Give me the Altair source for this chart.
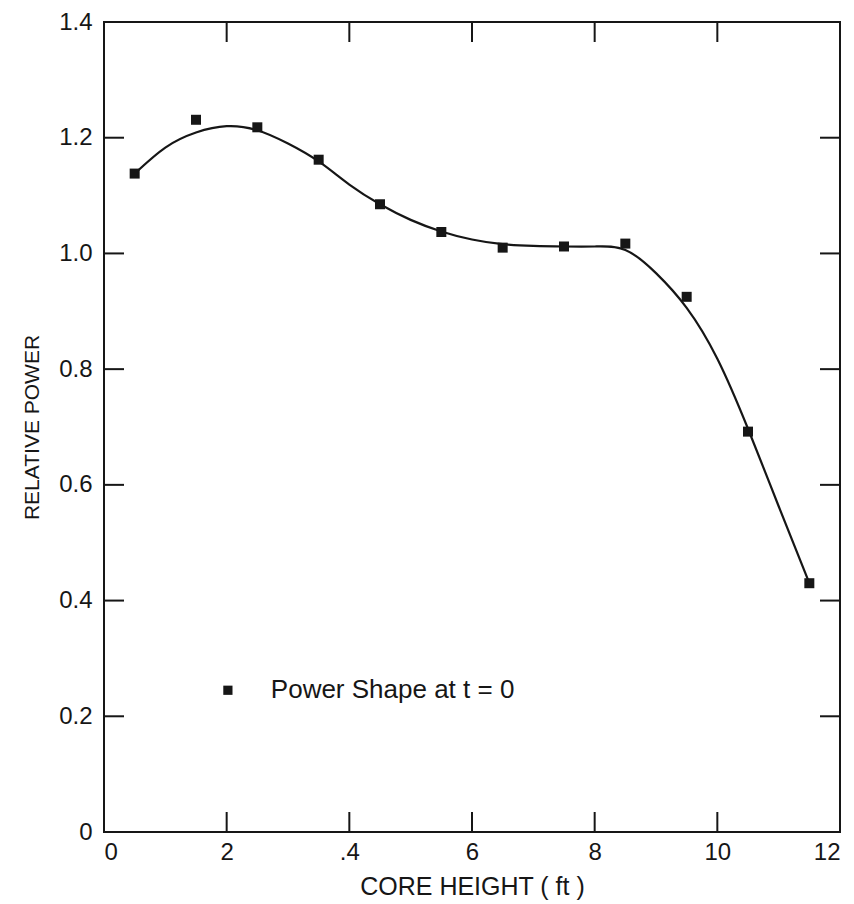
import altair as alt
import pandas as pd

# ---- data ----
height_ft = [0.5, 1.5, 2.5, 3.5, 4.5, 5.5, 6.5, 7.5, 8.5, 9.5, 10.5, 11.5]
rel_power = [1.138, 1.231, 1.218, 1.162, 1.085, 1.037, 1.010, 1.012, 1.017, 0.925, 0.692, 0.430]

curve_x = [0.5, 1.0, 1.5, 2.0, 2.5, 3.0, 3.5, 4.0, 4.5, 5.0, 5.5, 6.0, 6.5, 7.0, 7.5,
           8.0, 8.5, 9.0, 9.5, 10.0, 10.5, 11.0, 11.5]
curve_y = [1.138, 1.183, 1.209, 1.220, 1.213, 1.190, 1.159, 1.119, 1.085, 1.058, 1.038,
           1.024, 1.016, 1.013, 1.012, 1.012, 1.006, 0.966, 0.906, 0.818,
           0.697, 0.563, 0.430]

x_tick_values = [2, 4, 6, 8, 10]
y_tick_values = [0.2, 0.4, 0.6, 0.8, 1.0, 1.2]
x_label_values = [0, 2, 4, 6, 8, 10, 12]
y_label_values = [0, 0.2, 0.4, 0.6, 0.8, 1.0, 1.2, 1.4]
legend_text = ["Power Shape at t = 0"]
legend_pos_x = [2.02]
legend_text_x = [2.72]
legend_pos_y = [0.245]

FONT = "Liberation Sans"
INK = "#161616"
W, H = 736, 810

pts = pd.DataFrame({"x": height_ft, "y": rel_power})
crv = pd.DataFrame({"x": curve_x, "y": curve_y})
xt = pd.DataFrame({"x": x_tick_values})
yt = pd.DataFrame({"y": y_tick_values})
leg_sym = pd.DataFrame({"x": legend_pos_x, "y": legend_pos_y})
leg_txt = pd.DataFrame({"x": legend_text_x, "y": legend_pos_y, "t": legend_text})

xscale = alt.Scale(domain=[0, 12], nice=False, zero=False)
yscale = alt.Scale(domain=[0, 1.4], nice=False, zero=False)

xaxis = alt.Axis(values=x_label_values,
                 labelExpr="datum.value == 4 ? '.4' : format(datum.value, 'd')",
                 ticks=False, domain=False, grid=False, labelFontSize=24, labelFont=FONT,
                 labelColor=INK, labelPadding=8, title="CORE HEIGHT ( ft )",
                 titleFont=FONT, titleFontSize=25, titleFontWeight="normal",
                 titleColor=INK, titlePadding=10)
yaxis = alt.Axis(values=y_label_values,
                 labelExpr="datum.value == 0 ? '0' : format(datum.value, '.1f')",
                 ticks=False, domain=False, grid=False, labelFontSize=24, labelFont=FONT,
                 labelColor=INK, labelPadding=12, title="RELATIVE POWER",
                 titleFont=FONT, titleFontSize=21, titleFontWeight="normal",
                 titleColor=INK, titlePadding=16)

line = alt.Chart(crv).mark_line(color=INK, strokeWidth=2.2, interpolate="natural").encode(
    x=alt.X("x:Q", scale=xscale, axis=xaxis),
    y=alt.Y("y:Q", scale=yscale, axis=yaxis),
)
points = alt.Chart(pts).mark_point(shape="square", filled=True, size=100, color=INK, opacity=1).encode(
    x="x:Q", y="y:Q"
)

tick_len = 20
top_ticks = alt.Chart(xt).mark_rule(color=INK, strokeWidth=2).encode(
    x="x:Q", y=alt.value(0), y2=alt.value(tick_len))
bot_ticks = alt.Chart(xt).mark_rule(color=INK, strokeWidth=2).encode(
    x="x:Q", y=alt.value(H), y2=alt.value(H - tick_len))
left_ticks = alt.Chart(yt).mark_rule(color=INK, strokeWidth=2).encode(
    y="y:Q", x=alt.value(0), x2=alt.value(tick_len))
right_ticks = alt.Chart(yt).mark_rule(color=INK, strokeWidth=2).encode(
    y="y:Q", x=alt.value(W), x2=alt.value(W - tick_len))

leg_point = alt.Chart(leg_sym).mark_point(shape="square", filled=True, size=85, color=INK, opacity=1).encode(
    x="x:Q", y="y:Q")
leg_label = alt.Chart(leg_txt).mark_text(align="left", baseline="middle", font=FONT,
                                         fontSize=26, color=INK).encode(
    x="x:Q", y="y:Q", text="t:N")

chart = alt.layer(line, points, top_ticks, bot_ticks, left_ticks, right_ticks,
                  leg_point, leg_label).properties(
    width=W, height=H,
    autosize=alt.AutoSizeParams(type="none"),
    padding={"left": 104, "top": 22, "right": 14, "bottom": 72},
    background="white",
).configure_view(stroke=INK, strokeWidth=2)

chart.save("out.html", embed_options={"renderer": "svg", "actions": False})
